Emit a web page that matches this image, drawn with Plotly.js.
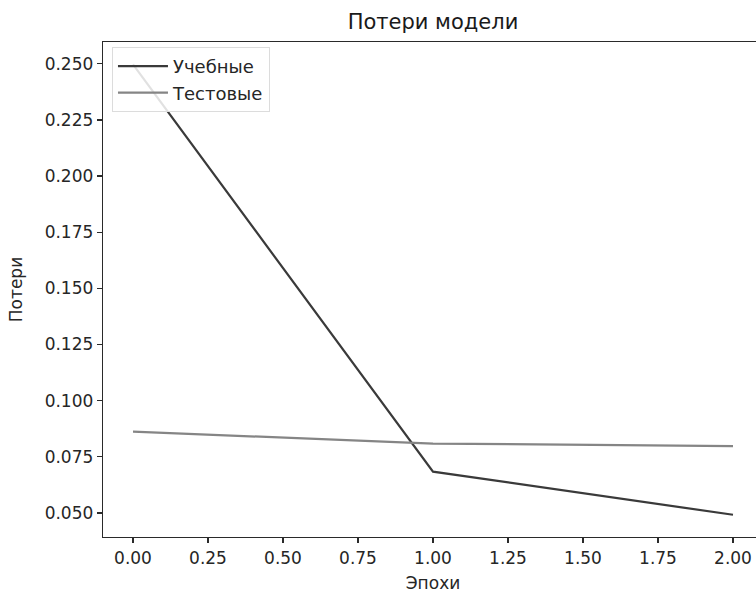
<!DOCTYPE html>
<html>
<head>
<meta charset="utf-8">
<script src="https://cdn.plot.ly/plotly-3.0.1.min.js"></script>
<style>
  html, body { margin: 0; padding: 0; overflow: hidden; background: #fff; }
  #chart { width: 770px; height: 593px; }
</style>
</head>
<body>
<div id="chart"></div>
<script>
const epochs = [0, 1, 2];
const trainLoss = [0.2497, 0.0684, 0.0492];
const testLoss = [0.0862, 0.0809, 0.0798];
const seriesNames = ["Учебные", "Тестовые"];
const xTicks = [0, 0.25, 0.5, 0.75, 1.0, 1.25, 1.5, 1.75, 2.0];
const yTicks = [0.05, 0.075, 0.1, 0.125, 0.15, 0.175, 0.2, 0.225, 0.25];
const titleText = "Потери модели";
const xTitle = "Эпохи";
const yTitle = "Потери";

const font = "DejaVu Sans, sans-serif";
const textColor = "#262626";

const traces = [
  { x: epochs, y: trainLoss, name: seriesNames[0], mode: "lines",
    line: { color: "#3a3a3a", width: 2.2 } },
  { x: epochs, y: testLoss, name: seriesNames[1], mode: "lines",
    line: { color: "#858585", width: 2.2 } }
];

const axisCommon = {
  showgrid: false, zeroline: false, showline: true, mirror: true,
  linecolor: "#2a2a2a", linewidth: 1.3,
  ticks: "outside", ticklen: 5, tickwidth: 1.2, tickcolor: "#2a2a2a",
  tickfont: { family: font, size: 17, color: textColor }
};

const layout = {
  width: 770, height: 593,
  margin: { l: 103, r: 7, t: 42, b: 56 },
  paper_bgcolor: "#fff", plot_bgcolor: "#fff",
  title: { text: titleText, x: 0.5, xref: "paper", xanchor: "center",
           y: 0.963, yref: "container", yanchor: "middle",
           font: { family: font, size: 21, color: "#1a1a1a" } },
  xaxis: Object.assign({}, axisCommon, {
    range: [-0.1, 2.1], tickvals: xTicks, tickformat: ".2f",
    title: { text: xTitle, standoff: 11, font: { family: font, size: 17, color: textColor } }
  }),
  yaxis: Object.assign({}, axisCommon, {
    range: [0.0393, 0.2597], tickvals: yTicks, tickformat: ".3f",
    title: { text: yTitle, standoff: 17, font: { family: font, size: 17, color: textColor } }
  }),
  showlegend: true,
  legend: { x: 0.0136, y: 0.99, xanchor: "left", yanchor: "top",
            bgcolor: "rgba(255,255,255,0.85)", bordercolor: "#dcdcdc", borderwidth: 1,
            font: { family: font, size: 18, color: textColor },
            itemwidth: 50, tracegroupgap: 0 }
};

Plotly.newPlot("chart", traces, layout, { displayModeBar: false, staticPlot: true });
</script>
</body>
</html>
